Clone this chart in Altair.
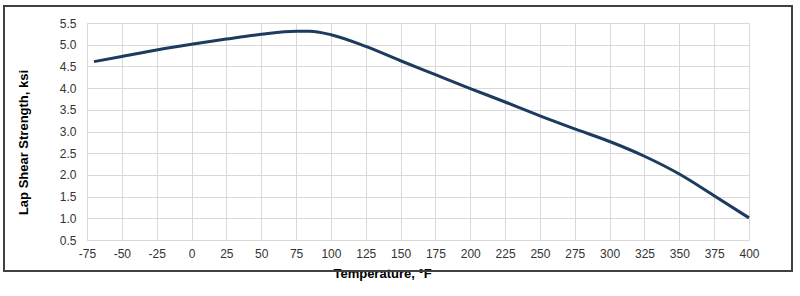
import altair as alt
import pandas as pd

temps = [-70, -50, -25, 0, 25, 50, 75, 85, 100, 125, 150, 175, 200, 225, 250, 275, 300, 325, 350, 375, 400]
strength = [4.61, 4.73, 4.88, 5.01, 5.13, 5.24, 5.31, 5.31, 5.23, 4.96, 4.63, 4.31, 3.99, 3.68, 3.36, 3.06, 2.77, 2.43, 2.02, 1.52, 1.01]
x_ticks = list(range(-75, 401, 25))
y_ticks = [0.5, 1.0, 1.5, 2.0, 2.5, 3.0, 3.5, 4.0, 4.5, 5.0, 5.5]

df = pd.DataFrame({"temp": temps, "val": strength})
FONT = "Liberation Sans"

line = alt.Chart(df).mark_line(
    color="#1d3a5f", strokeWidth=3, interpolate="monotone"
).encode(
    x=alt.X("temp:Q",
            scale=alt.Scale(domain=[-75, 400], nice=False, zero=False),
            axis=alt.Axis(values=x_ticks, title="Temperature, °F", ticks=False,
                          labelExpr="'' + datum.value",
                          labelPadding=8, labelFontSize=12, labelColor="#333333",
                          labelFont=FONT, titleFont=FONT, titleFontSize=13,
                          titleFontWeight="bold", titleColor="#000000",
                          titleX=295, titleY=33, titleBaseline="middle",
                          gridColor="#d9d9d9", domainColor="#d9d9d9",
                          labelFlush=False)),
    y=alt.Y("val:Q",
            scale=alt.Scale(domain=[0.5, 5.5], nice=False, zero=False),
            axis=alt.Axis(values=y_ticks, format=".1f", title="Lap Shear Strength, ksi",
                          ticks=False, labelPadding=11, labelFontSize=12,
                          labelColor="#333333", labelFont=FONT, titleFont=FONT,
                          titleFontSize=13, titleFontWeight="bold", titleColor="#000000",
                          titleX=-64, titleY=119, titleAngle=-90, titleAlign="center",
                          titleBaseline="middle",
                          gridColor="#d9d9d9", domainColor="#d9d9d9"))
)

border = alt.Chart(pd.DataFrame({"a": [0]})).mark_rect(
    fill=None, stroke="#404040", strokeWidth=2, clip=False
).encode(
    x=alt.value(-83), x2=alt.value(705), y=alt.value(-17), y2=alt.value(248)
)

chart = alt.layer(line, border).properties(
    width=662, height=217,
    autosize=alt.AutoSizeParams(type="none"),
    padding={"left": 87, "top": 23, "right": 51, "bottom": 56},
).configure_view(stroke=None)

chart.save("out.html", embed_options={"renderer": "svg", "actions": False})
